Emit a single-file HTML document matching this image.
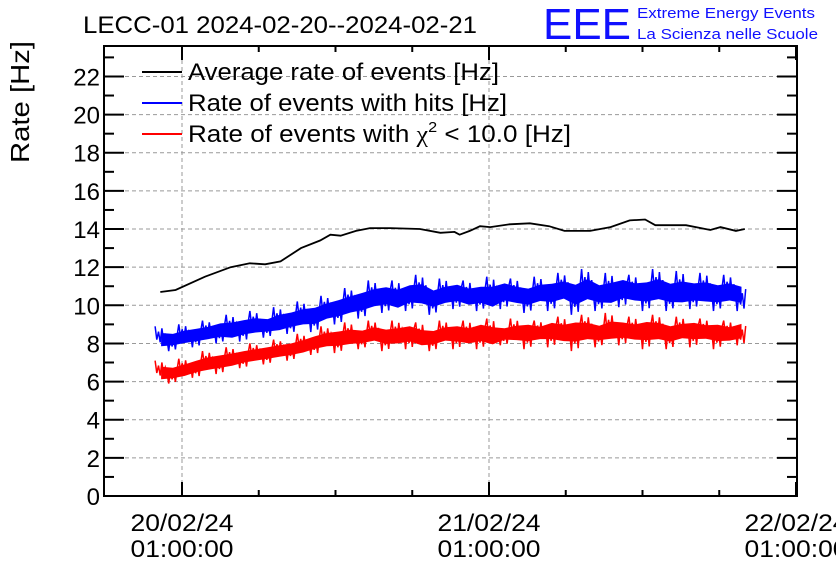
<!DOCTYPE html>
<html><head><meta charset="utf-8"><style>
body{margin:0;background:#fff;}
svg text{font-family:"Liberation Sans",sans-serif;}
</style></head><body>
<svg id="chart" width="836" height="572" viewBox="0 0 836 572" xmlns="http://www.w3.org/2000/svg">
<rect width="836" height="572" fill="#fff"/>
<text x="83" y="33" font-size="24" textLength="394" lengthAdjust="spacingAndGlyphs">LECC-01 2024-02-20--2024-02-21</text>
<text x="543" y="39" font-size="44" fill="#1010ff" textLength="88" lengthAdjust="spacingAndGlyphs">EEE</text>
<text x="637" y="18" font-size="15" fill="#1010ff" textLength="178" lengthAdjust="spacingAndGlyphs">Extreme Energy Events</text>
<text x="637" y="39" font-size="15" fill="#1010ff" textLength="181" lengthAdjust="spacingAndGlyphs">La Scienza nelle Scuole</text>
<text transform="translate(29,163) rotate(-90)" font-size="26" textLength="122" lengthAdjust="spacingAndGlyphs">Rate [Hz]</text>
<g id="grid"></g>
<g id="series"></g>
<g id="axes"></g>
<g>
 <line x1="142" y1="72" x2="182" y2="72" stroke="#000" stroke-width="2"/>
 <text x="188" y="80" font-size="24" textLength="311" lengthAdjust="spacingAndGlyphs">Average rate of events [Hz]</text>
 <line x1="142" y1="103" x2="182" y2="103" stroke="#00f" stroke-width="2"/>
 <text x="188" y="111" font-size="24" textLength="319" lengthAdjust="spacingAndGlyphs">Rate of events with hits [Hz]</text>
 <line x1="142" y1="134" x2="182" y2="134" stroke="#f00" stroke-width="2"/>
 <text x="188" y="142" font-size="24" textLength="383" lengthAdjust="spacingAndGlyphs">Rate of events with <tspan font-family="Liberation Serif">χ</tspan><tspan font-size="15" dy="-10">2</tspan><tspan dy="10"> &lt; 10.0 [Hz]</tspan></text>
</g>
</svg>
<script>
// hours relative to 20/02/24 01:00:00
const avgHours=[-1.7,-0.5,1.8,3.8,5.3,6.5,7.7,9.3,10.8,11.6,12.4,13.6,14.7,16.3,18.6,20.2,21.3,21.7,22.5,23.3,24.1,25.6,27.2,28.7,29.9,31.9,33.5,35.0,36.2,37.0,39.4,41.3,42.1,43.3,44.0];
const avgValues=[10.7,10.8,11.5,12.0,12.2,12.15,12.3,13.0,13.4,13.7,13.65,13.9,14.05,14.05,14.0,13.8,13.85,13.7,13.9,14.15,14.1,14.25,14.3,14.15,13.9,13.9,14.1,14.45,14.5,14.2,14.2,13.95,14.1,13.9,14.0];
const hitsLo=[7.5,7.6,7.7,7.8,7.9,8.0,7.9,8.1,8.2,8.3,8.3,8.5,8.6,8.6,8.9,9.0,9.2,9.3,9.5,9.6,9.4,9.7,9.6,9.5,9.7,9.8,9.6,9.7,9.4,9.8,9.7,9.6,9.8,9.7,9.9,9.5,9.8,9.7,9.6,9.9,9.8,9.7,9.8,9.7,9.6,9.8,9.7,9.7,9.8,9.7];
const hitsHi=[8.9,8.8,9.0,9.1,9.2,9.4,9.5,9.6,9.7,9.6,9.9,10.0,10.2,10.3,10.5,10.7,10.9,11.1,11.3,11.4,11.3,11.5,11.6,11.2,11.4,11.5,11.3,11.4,11.5,11.6,11.4,11.3,11.5,11.6,11.7,11.6,11.9,11.5,11.7,11.8,11.6,11.7,11.9,11.6,11.8,11.6,11.7,11.5,11.6,11.4];
const chiLo=[5.8,5.9,6.0,6.2,6.3,6.4,6.5,6.7,6.8,6.9,7.0,7.1,7.2,7.4,7.5,7.5,7.6,7.7,7.8,7.6,7.6,7.7,7.5,7.6,7.8,7.7,7.6,7.7,7.5,7.9,7.8,7.7,7.9,7.8,7.7,7.6,7.8,7.8,7.8,7.9,7.8,7.7,7.8,7.7,7.9,7.8,7.9,7.7,7.8,7.9];
const chiHi=[7.1,7.0,7.2,7.4,7.6,7.7,7.8,7.9,8.0,8.1,8.2,8.3,8.5,8.7,8.9,9.0,9.1,9.0,9.2,9.1,9.2,9.3,9.1,9.0,9.2,9.3,9.2,9.4,9.3,9.1,9.3,9.4,9.2,9.5,9.4,9.6,9.5,9.3,9.6,9.5,9.4,9.6,9.5,9.3,9.4,9.5,9.3,9.4,9.2,9.4];
const bandStart=-2.1, bandEnd=44.2;
const yTicks=[0,2,4,6,8,10,12,14,16,18,20,22];
const xDayHours=[0,24,48];
const xDayLabels=["20/02/24","21/02/24","22/02/24"];
const xTimeLabels=["01:00:00","01:00:00","01:00:00"];

const NS="http://www.w3.org/2000/svg";
const L=104,R=797,T=46,B=496;
const xS=h=>182+h*(307/24);
const yS=v=>B-v*19.07;
const jit=[1,0.15,0.6,0.05,0.85,0.3,0.45,0,0.75,0.2,0.95,0.1,0.55,0.35];
function mk(tag,attrs,parent){const e=document.createElementNS(NS,tag);for(const k in attrs)e.setAttribute(k,attrs[k]);parent.appendChild(e);return e;}
const grid=document.getElementById('grid'),axes=document.getElementById('axes'),series=document.getElementById('series');

yTicks.forEach(v=>{
 if(v>0){const g=mk('line',{x1:L,x2:R,y1:yS(v),y2:yS(v),stroke:'#999','stroke-dasharray':'4,3','stroke-width':1},grid);
 
 }
 const t=mk('line',{x1:L,x2:L+20,y1:yS(v),y2:yS(v),stroke:'#000','stroke-width':2},axes);
 
 
 mk('line',{x1:R,x2:R-20,y1:yS(v),y2:yS(v),stroke:'#000','stroke-width':2},axes);
 mk('line',{x1:L,x2:L+10,y1:yS(v+1),y2:yS(v+1),stroke:'#000','stroke-width':2},axes);
 mk('line',{x1:R,x2:R-10,y1:yS(v+1),y2:yS(v+1),stroke:'#000','stroke-width':2},axes);
 const lb=mk('text',{x:L-4,y:yS(v)+9,'font-size':24,'text-anchor':'end'},axes);
 
 
 lb.textContent=v;
});
xDayHours.forEach((h,i)=>{
 const x=xS(h);
 if(x<R-2){const g=mk('line',{x1:x,x2:x,y1:T,y2:B,stroke:'#999','stroke-dasharray':'4,3','stroke-width':1},grid);
 
 }
 mk('line',{x1:x,x2:x,y1:B,y2:B-14,stroke:'#000','stroke-width':2},axes);
 mk('line',{x1:x,x2:x,y1:T,y2:T+14,stroke:'#000','stroke-width':2},axes);
 for(let k=1;k<4&&h<48;k++){const xm=xS(h+k*6);
  mk('line',{x1:xm,x2:xm,y1:B,y2:B-6,stroke:'#000','stroke-width':2},axes);
  mk('line',{x1:xm,x2:xm,y1:T,y2:T+6,stroke:'#000','stroke-width':2},axes);}
 const d=mk('text',{x:x,y:531,'font-size':24,'text-anchor':'middle','textLength':103,'lengthAdjust':'spacingAndGlyphs'},axes);
 
 
 d.textContent=xDayLabels[i];
 const tt=mk('text',{x:x,y:557,'font-size':24,'text-anchor':'middle','textLength':103,'lengthAdjust':'spacingAndGlyphs'},axes);
 
 
 tt.textContent=xTimeLabels[i];
});
const fr=mk('rect',{x:L,y:T,width:R-L,height:B-T,fill:'none',stroke:'#000','stroke-width':2},axes);



function band(lo,hi,color,name){
 const n=lo.length,step=(bandEnd-bandStart)/n,sub=7;let d='';let c=0;
 for(let i=0;i<n;i++){
  for(let k=0;k<sub;k++){
   const x=xS(bandStart+step*(i+k/sub));
   const f=jit[(c++)%jit.length];
   const mid=(hi[i]+lo[i])/2, half=(hi[i]-lo[i])/2;
   const v=(k%2===0)?mid+half*f:mid-half*jit[(c+5)%jit.length];
   d+=(d?'L':'M')+x.toFixed(1)+','+yS(v).toFixed(1);
  }
 }
 const p=mk('path',{d:d,fill:'none',stroke:color,'stroke-width':1.5},series);
 
 
 let core='';
 for(let i=0;i<n;i++){core+=(core?'L':'M')+xS(bandStart+step*(i+0.5)).toFixed(1)+','+yS(hi[i]-(hi[i]-lo[i])*0.25).toFixed(1);}
 for(let i=n-1;i>=0;i--){core+='L'+xS(bandStart+step*(i+0.5)).toFixed(1)+','+yS(lo[i]+(hi[i]-lo[i])*0.25).toFixed(1);}
 const cc=mk('path',{d:core+'Z',fill:color,stroke:'none'},series);
 
 
}
band(hitsLo,hitsHi,'#0000ff','series-hits');
band(chiLo,chiHi,'#ff0000','series-chi2');
let ad='';
avgHours.forEach((h,i)=>{ad+=(i?'L':'M')+xS(h).toFixed(1)+','+yS(avgValues[i]).toFixed(1);});
const ap=mk('path',{d:ad,fill:'none',stroke:'#000','stroke-width':1.8},series);


</script>
</body></html>
